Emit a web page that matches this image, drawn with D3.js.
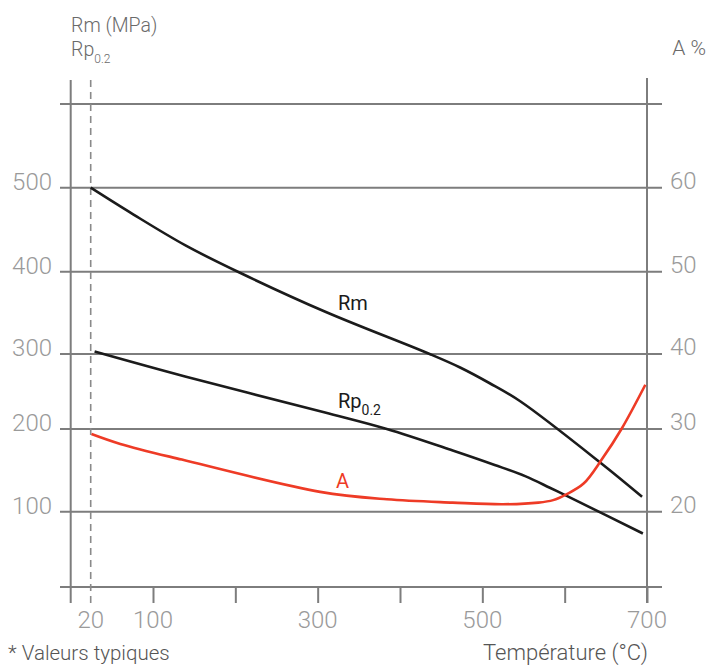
<!DOCTYPE html>
<html>
<head>
<meta charset="utf-8">
<script src="https://cdn.jsdelivr.net/npm/d3@7"></script>
<style>
  body { margin: 0; background: #fff; }
  text { font-family: Roboto, "Open Sans", sans-serif; }
</style>
</head>
<body>
<div id="chart"></div>
<script>
// data: [temperature °C, value]
var rmData = [[20,500],[75,468],[140,431],[205,399],[310,351],[436,300],[473,282],[509,261],[546,237],[645,158],[694,118]];
var rpData = [[25,303],[139,270],[309,222],[384,200],[464,174],[515,156.5],[552,143],[582,129],[613,114],[695,71]];
var aData  = [[21,29.4],[58,28.2],[135,26.3],[303,22.4],[384,21.5],[464,21.1],[525,20.9],[568,21.1],[586,21.4],[602,22.1],[623,23.4],[645,26.3],[669,30],[698,35.9]];

var gridValues = [0,100,200,300,400,500,600];
var leftLabels = [100,200,300,400,500];
var rightLabels = [20,30,40,50,60];
var xTicks = [100,200,300,400,500,600,700];
var xLabels = [20,100,300,500,700];

var width = 710, height = 671;

var svg = d3.select("#chart")
  .append("svg")
    .attr("width", width)
    .attr("height", height);

// scales (the original drawing is slightly uneven, so piecewise)
var x = d3.scaleLinear()
  .domain([0,20,100,700])
  .range([70.7,90.7,153,647]);

var y = d3.scaleLinear()
  .domain(gridValues)
  .range([587,511.7,429,354,271.7,187.7,104]);

// A % axis: 20% sits on 100 MPa, 60% on 500 MPa
var yA = d3.scaleLinear()
  .domain([10,20,30,40,50,60,70])
  .range(y.range());

var gridColor = "#7d7d7d";
var labelColor = "#9a9a9a";

// horizontal grid lines
svg.selectAll(".grid")
  .data(gridValues)
  .enter()
  .append("line")
    .attr("x1", 60)
    .attr("x2", 662)
    .attr("y1", function(d) { return y(d); })
    .attr("y2", function(d) { return y(d); })
    .style("stroke", gridColor)
    .style("stroke-width", 2);

// left and right vertical axes
svg.append("line")
  .attr("x1", x(0)).attr("x2", x(0))
  .attr("y1", 80).attr("y2", 603)
  .style("stroke", gridColor).style("stroke-width", 2);
svg.append("line")
  .attr("x1", x(700)).attr("x2", x(700))
  .attr("y1", 78).attr("y2", 603)
  .style("stroke", gridColor).style("stroke-width", 2);

// dashed 20 °C line
svg.append("line")
  .attr("x1", x(20)).attr("x2", x(20))
  .attr("y1", 80).attr("y2", 603)
  .style("stroke", "#8a8a8a")
  .style("stroke-width", 1.6)
  .style("stroke-dasharray", "7,5");

// x ticks
svg.append("g")
  .attr("transform", "translate(0," + y(0) + ")")
  .call(d3.axisBottom(x).tickValues(xTicks).tickSize(16).tickFormat(""))
  .call(function(g) {
    g.select(".domain").remove();
    g.selectAll("line").style("stroke", gridColor).style("stroke-width", 2);
  });

// x labels
svg.selectAll(".xlab")
  .data(xLabels)
  .enter()
  .append("text")
    .attr("x", function(d) { return x(d); })
    .attr("y", 628)
    .attr("text-anchor", "middle")
    .style("font-size", "24px")
    .style("font-weight", 300)
    .style("fill", labelColor)
    .text(function(d) { return d; });

// left labels
svg.selectAll(".ylab")
  .data(leftLabels)
  .enter()
  .append("text")
    .attr("x", 52)
    .attr("y", function(d) { return y(d) + 2; })
    .attr("text-anchor", "end")
    .style("font-size", "24px")
    .style("font-weight", 300)
    .style("fill", labelColor)
    .text(function(d) { return d; });

// right labels
svg.selectAll(".alab")
  .data(rightLabels)
  .enter()
  .append("text")
    .attr("x", 670)
    .attr("y", function(d) { return yA(d) + 1; })
    .attr("text-anchor", "start")
    .style("font-size", "24px")
    .style("font-weight", 300)
    .style("fill", labelColor)
    .text(function(d) { return d; });

// curves
var line = d3.line()
  .x(function(d) { return x(d[0]); })
  .y(function(d) { return y(d[1]); })
  .curve(d3.curveCatmullRom.alpha(0.5));

var lineA = d3.line()
  .x(function(d) { return x(d[0]); })
  .y(function(d) { return yA(d[1]); })
  .curve(d3.curveCatmullRom.alpha(0.5));

svg.append("path")
  .datum(rmData)
  .attr("d", line)
  .style("fill", "none").style("stroke", "#1b1b1b").style("stroke-width", 2.6);

svg.append("path")
  .datum(rpData)
  .attr("d", line)
  .style("fill", "none").style("stroke", "#1b1b1b").style("stroke-width", 2.6);

svg.append("path")
  .datum(aData)
  .attr("d", lineA)
  .style("fill", "none").style("stroke", "#ee3b26").style("stroke-width", 2.6);

// curve labels
svg.append("text")
  .attr("x", 338).attr("y", 310)
  .style("font-size", "20px").style("fill", "#1b1b1b")
  .text("Rm");

var rpLab = svg.append("text")
  .attr("x", 338).attr("y", 408)
  .style("font-size", "20px").style("fill", "#1b1b1b");
rpLab.append("tspan").text("Rp");
rpLab.append("tspan").attr("dy", 7).style("font-size", "14px").text("0.2");

svg.append("text")
  .attr("x", 336).attr("y", 488)
  .style("font-size", "20px").style("fill", "#ee3b26")
  .text("A");

// axis titles
svg.append("text")
  .attr("x", 71).attr("y", 32)
  .style("font-size", "19.5px").style("font-weight", 300).style("fill", "#6a6a6a")
  .text("Rm (MPa)");

var rpTitle = svg.append("text")
  .attr("x", 71).attr("y", 56)
  .style("font-size", "19.5px").style("font-weight", 300).style("fill", "#6a6a6a");
rpTitle.append("tspan").text("Rp");
rpTitle.append("tspan").attr("dy", 7).style("font-size", "12px").text("0.2");

svg.append("text")
  .attr("x", 706).attr("y", 55)
  .attr("text-anchor", "end")
  .style("font-size", "21px").style("font-weight", 300).style("fill", "#6a6a6a")
  .text("A %");

svg.append("text")
  .attr("x", 648).attr("y", 660)
  .attr("text-anchor", "end")
  .style("font-size", "22px").style("font-weight", 300).style("fill", "#555")
  .text("Température (°C)");

svg.append("text")
  .attr("x", 8).attr("y", 660)
  .style("font-size", "20.5px").style("font-weight", 300).style("fill", "#555")
  .text("* Valeurs typiques");
</script>
</body>
</html>
